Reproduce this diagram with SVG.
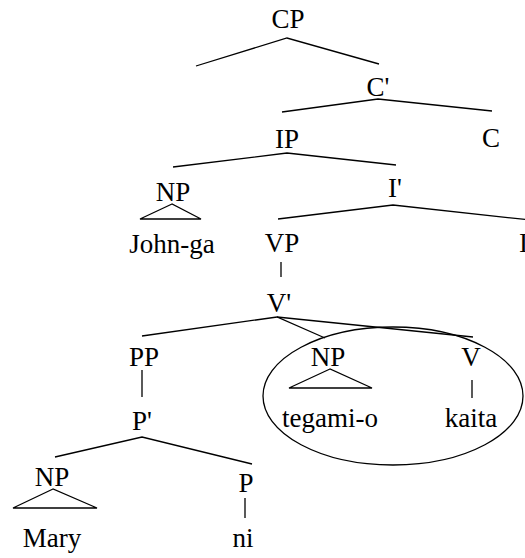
<svg xmlns="http://www.w3.org/2000/svg" width="525" height="558" viewBox="0 0 525 558">
<style>
text{font-family:"Liberation Serif","Times New Roman",serif;font-size:27px;fill:#000;text-anchor:middle}
.e{stroke:#000;stroke-width:1.3;fill:none}
</style>
<rect width="525" height="558" fill="#fff"/>
<g id="connectors">
<polyline class="e" points="196,66 287,38 379,64"/>
<polyline class="e" points="282,112 378,99 492,111"/>
<polyline class="e" points="173,167 287,153 396,165"/>
<polyline class="e" points="278,219 393,205 530,220"/>
<line class="e" x1="281" y1="262" x2="281" y2="277"/>
<polyline class="e" points="142,336 277,317 325,338"/>
<line class="e" x1="277" y1="317" x2="473" y2="337"/>
<line class="e" x1="472" y1="380" x2="472" y2="398"/>
<line class="e" x1="142" y1="370" x2="142" y2="397"/>
<polyline class="e" points="55,457 142,437 252,464"/>
<line class="e" x1="245" y1="498" x2="245" y2="518"/>
</g>
<g id="CP"><text x="288" y="28">CP</text></g>
<g id="Cbar"><text x="378" y="96">C'</text></g>
<g id="IP"><text x="287" y="148">IP</text></g>
<g id="C"><text x="491" y="147">C</text></g>
<g id="Ibar"><text x="395" y="197">I'</text></g>
<g id="NP-John"><text x="173" y="201">NP</text><polygon class="e" points="172,204 140,219 201,219"/><text x="172" y="253">John-ga</text></g>
<g id="VP"><text x="282" y="252">VP</text></g>
<g id="I"><text x="519" y="252" style="text-anchor:start">I</text></g>
<g id="Vbar"><text x="279" y="312">V'</text></g>
<g id="PP"><text x="144" y="366">PP</text></g>
<g id="NP-tegami"><text x="328" y="366">NP</text><polygon class="e" points="330,369 289,388 372,388"/><text x="330" y="427">tegami-o</text></g>
<g id="V"><text x="471" y="366">V</text><text x="471" y="427">kaita</text></g>
<g id="circle"><ellipse class="e" cx="393" cy="396" rx="130" ry="69"/></g>
<g id="Pbar"><text x="142" y="430">P'</text></g>
<g id="NP-Mary"><text x="52" y="486">NP</text><polygon class="e" points="53,489 13,508 97,508"/><text x="52" y="547">Mary</text></g>
<g id="P"><text x="246" y="492">P</text><text x="243" y="547">ni</text></g>
</svg>
